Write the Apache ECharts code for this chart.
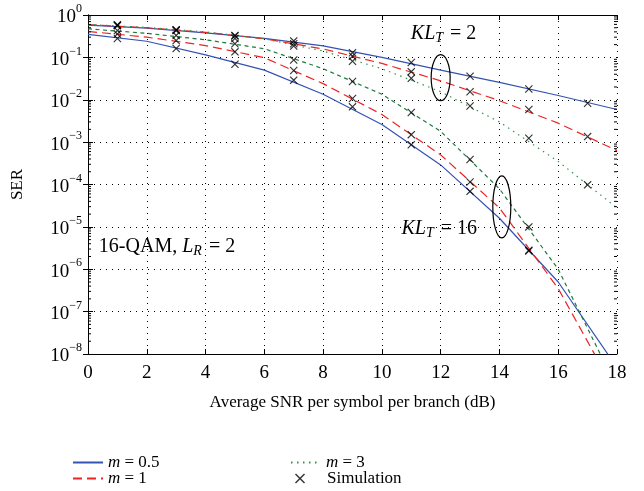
<!DOCTYPE html>
<html lang="en">
<head>
<meta charset="UTF-8">
<title>SER vs average SNR</title>
<script src="https://cdn.jsdelivr.net/npm/echarts@6/dist/echarts.min.js"></script>
<style>html,body{margin:0;background:#fff;}</style>
</head>
<body>
<div id="container" style="width:644px;height:491px"></div>
<script>
// theory curves, every 2 dB
var snrTheory = [0, 2, 4, 6, 8, 10, 12, 14, 16, 18];
var kl2_m05 = [0.575, 0.49, 0.38, 0.28, 0.186, 0.10, 0.050, 0.0257, 0.0126, 0.0059];
var kl2_m1 = [0.59, 0.50, 0.39, 0.275, 0.158, 0.072, 0.028, 0.0095, 0.0028, 6.3e-4];
var kl2_m3 = [0.60, 0.51, 0.40, 0.275, 0.141, 0.054, 0.0155, 0.0030, 3.5e-4, 2.8e-5];
var kl16_m05 = [0.35, 0.24, 0.115, 0.050, 0.0135, 0.0026, 2.9e-4, 1.6e-5, 5.0e-7, 4.8e-9];
var kl16_m1 = [0.41, 0.30, 0.19, 0.098, 0.024, 0.0045, 5.0e-4, 2.8e-5, 3.5e-7, 1.1e-9];
var kl16_m3 = [0.47, 0.37, 0.26, 0.16, 0.054, 0.0135, 0.0018, 7.9e-5, 1.0e-6, 1.6e-9];

// simulation points, odd dB
var snrSim = [1, 3, 5, 7, 9, 11, 13, 15, 17];
var sim_kl2_m05 = [0.56, 0.45, 0.33, 0.245, 0.129, 0.076, 0.036, 0.018, 0.0083];
var sim_kl2_m1 = [0.575, 0.44, 0.32, 0.21, 0.107, 0.046, 0.0155, 0.0059, 0.00135];
var sim_kl2_m3 = [0.59, 0.43, 0.28, 0.186, 0.081, 0.032, 0.0071, 0.00123, 9.8e-5];
var sim_kl16_m05 = [0.28, 0.162, 0.069, 0.029, 0.0068, 8.7e-4, 6.9e-5, 2.7e-6];
var sim_kl16_m1 = [0.355, 0.25, 0.135, 0.049, 0.0107, 0.0015, 1.15e-4, 2.8e-6];
var sim_kl16_m3 = [0.43, 0.33, 0.21, 0.087, 0.027, 0.005, 3.9e-4, 1.0e-5];

var FONT = 'Liberation Serif';
var xMark = 'path://M0,1L1,0L5,4L9,0L10,1L6,5L10,9L9,10L5,6L1,10L0,9L4,5Z';

function pairs(xs, ys) {
    return ys.map(function (v, i) { return [xs[i], v]; });
}

function lineSeries(name, xs, ys, color, type) {
    return {
        name: name,
        type: 'line',
        symbol: 'none',
        data: pairs(xs, ys),
        lineStyle: { color: color, width: 1.2, type: type },
        itemStyle: { color: color },
        z: 3
    };
}

function simSeries(ys) {
    return {
        name: 'Simulation',
        type: 'scatter',
        symbol: xMark,
        symbolSize: 8,
        itemStyle: { color: '#000' },
        data: pairs(snrSim, ys),
        z: 4
    };
}

// minor tick positions on the log axis (2..9 per decade)
var minorVals = [];
for (var k = -8; k < 0; k++) {
    for (var m = 2; m <= 9; m++) minorVals.push(m * Math.pow(10, k));
}

var blue = '#3452b4', red = '#ee2424', dgreen = '#1c7a3c', green = '#2f9650';

var chart = echarts.init(document.getElementById('container'));

var supLabel = function (v) {
    var e = Math.round(Math.log10(v));
    return '{b|10}{s|' + (e < 0 ? '\u2212' + (-e) : e) + '}';
};

function legendItem(name, left, top, isLine) {
    return {
        data: [name],
        left: left, top: top,
        itemWidth: 30, itemHeight: isLine ? 14 : 10,
        itemStyle: isLine ? { opacity: 0 } : {},
        textStyle: {
            fontFamily: FONT, fontSize: 17, color: '#000',
            rich: {
                i: { fontFamily: FONT, fontSize: 17, fontStyle: 'italic', color: '#000' },
                t: { fontFamily: FONT, fontSize: 17, color: '#000', padding: [0, 0, 0, 7] }
            }
        },
        formatter: function (n) { return n.charAt(0) === 'm' ? '{i|m}' + n.slice(1) : '{t|' + n + '}'; }
    };
}

chart.setOption({
    backgroundColor: '#fff',
    animation: false,
    textStyle: { fontFamily: FONT, color: '#000' },
    grid: { left: 88, right: 27, top: 15, bottom: 137 },
    legend: [
        legendItem('m = 0.5', 67, 449, true),
        legendItem('m = 1', 67, 465, true),
        legendItem('m = 3', 285, 449, true),
        legendItem('Simulation', 290, 465, false)
    ],
    xAxis: [
        {
            type: 'value', min: 0, max: 18, interval: 2,
            name: 'Average SNR per symbol per branch (dB)',
            nameLocation: 'middle', nameGap: 40,
            nameTextStyle: { fontFamily: FONT, fontSize: 17, color: '#000' },
            axisLine: { lineStyle: { color: '#000', width: 1 } },
            axisTick: { inside: true, length: 5, lineStyle: { color: '#000' } },
            axisLabel: { fontFamily: FONT, fontSize: 19, color: '#000', margin: 10 },
            splitLine: { show: true, lineStyle: { color: '#000', type: [1, 5], width: 1 } }
        },
        {
            type: 'value', min: 0, max: 18, interval: 2, position: 'top',
            axisLine: { show: true, lineStyle: { color: '#000', width: 1 } },
            axisTick: { inside: true, length: 5, lineStyle: { color: '#000' } },
            axisLabel: { show: false },
            splitLine: { show: false }
        }
    ],
    yAxis: [
        {
            type: 'log', logBase: 10, min: 1e-8, max: 1, interval: 1,
            name: 'SER', nameLocation: 'middle', nameGap: 62,
            nameTextStyle: { fontFamily: FONT, fontSize: 17, color: '#000' },
            axisLine: { show: true, lineStyle: { color: '#000', width: 1 } },
            axisTick: { inside: true, length: 5, lineStyle: { color: '#000' } },
            axisLabel: {
                formatter: supLabel, margin: 6,
                rich: {
                    b: { fontFamily: FONT, fontSize: 19, color: '#000', lineHeight: 24, verticalAlign: 'bottom' },
                    s: { fontFamily: FONT, fontSize: 12, color: '#000', lineHeight: 12, verticalAlign: 'top' }
                }
            },
            splitLine: { show: true, lineStyle: { color: '#000', type: [1, 5], width: 1 } }
        },
        {
            type: 'log', logBase: 10, min: 1e-8, max: 1, interval: 1, position: 'right',
            axisLine: { show: true, lineStyle: { color: '#000', width: 1 } },
            axisTick: { inside: true, length: 5, lineStyle: { color: '#000' } },
            axisLabel: { show: false },
            splitLine: { show: false }
        }
    ],
    series: [
        lineSeries('m = 0.5', snrTheory, kl2_m05, blue, 'solid'),
        lineSeries('m = 1', snrTheory, kl2_m1, red, [9, 5]),
        lineSeries('m = 3', snrTheory, kl2_m3, green, [1.5, 4.5]),
        lineSeries('m = 0.5', snrTheory, kl16_m05, blue, 'solid'),
        lineSeries('m = 1', snrTheory, kl16_m1, red, [9, 5]),
        lineSeries('m = 3', snrTheory, kl16_m3, dgreen, [4, 3.5]),
        simSeries(sim_kl2_m05),
        simSeries(sim_kl2_m1),
        simSeries(sim_kl2_m3),
        simSeries(sim_kl16_m05),
        simSeries(sim_kl16_m1),
        simSeries(sim_kl16_m3),
        {
            type: 'custom',
            silent: true,
            data: minorVals.map(function (v) { return [0, v]; }),
            renderItem: function (params, api) {
                var l = api.coord([0, api.value(1)]);
                var r = api.coord([18, api.value(1)]);
                return {
                    type: 'group',
                    children: [
                        { type: 'line', shape: { x1: l[0], y1: l[1], x2: l[0] + 3, y2: l[1] }, style: { stroke: '#000', lineWidth: 1 } },
                        { type: 'line', shape: { x1: r[0] - 3, y1: r[1], x2: r[0], y2: r[1] }, style: { stroke: '#000', lineWidth: 1 } }
                    ]
                };
            },
            z: 5
        }
    ]
});

// annotations placed in data coordinates
var ellipses = [
    { x: 12.0, y: Math.pow(10, -1.48), rx: 9.5, ry: 23 },
    { x: 14.08, y: Math.pow(10, -4.53), rx: 9, ry: 31 }
];
var notes = [
    { x: 12.1, y: Math.pow(10, -0.46), text: '{i|KL}{sub|T}{t| = 2}', align: 'center' },
    { x: 11.95, y: Math.pow(10, -5.06), text: '{i|KL}{sub|T}{t| = 16}', align: 'center' },
    { x: 0.37, y: Math.pow(10, -5.49), text: '{t|16-QAM, }{i|L}{sub|R}{t| = 2}', align: 'left' }
];
var noteRich = {
    t: { fontFamily: FONT, fontSize: 20, color: '#000', lineHeight: 22, verticalAlign: 'top' },
    i: { fontFamily: FONT, fontSize: 20, fontStyle: 'italic', color: '#000', lineHeight: 22, verticalAlign: 'top' },
    sub: { fontFamily: FONT, fontSize: 14, fontStyle: 'italic', color: '#000', lineHeight: 16, verticalAlign: 'bottom', padding: [0, 2, 0, 0] }
};
var graphics = [];
ellipses.forEach(function (e) {
    var p = chart.convertToPixel({ xAxisIndex: 0, yAxisIndex: 0 }, [e.x, e.y]);
    graphics.push({
        type: 'ellipse', z: 10,
        shape: { cx: p[0], cy: p[1], rx: e.rx, ry: e.ry },
        style: { fill: 'none', stroke: '#000', lineWidth: 1.2 }
    });
});
notes.forEach(function (n) {
    var p = chart.convertToPixel({ xAxisIndex: 0, yAxisIndex: 0 }, [n.x, n.y]);
    graphics.push({
        type: 'text', z: 10, x: p[0], y: p[1],
        style: { text: n.text, rich: noteRich, align: n.align, verticalAlign: 'middle' }
    });
});
chart.setOption({ graphic: graphics });
</script>
</body>
</html>
